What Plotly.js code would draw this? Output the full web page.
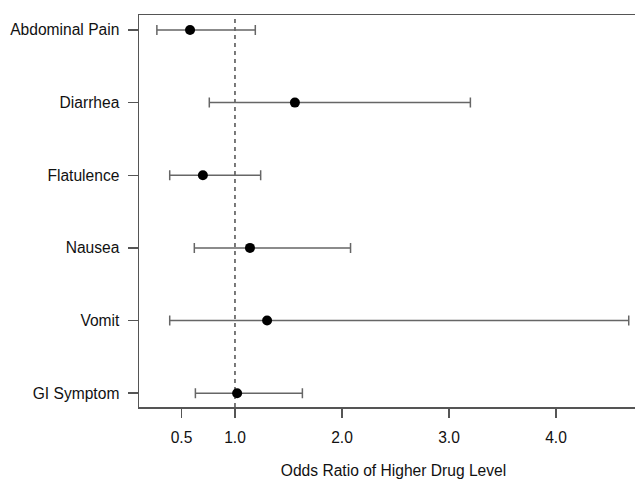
<!DOCTYPE html>
<html>
<head>
<meta charset="utf-8">
<script src="https://cdn.plot.ly/plotly-3.0.1.min.js"></script>
<style>
html,body{margin:0;padding:0;overflow:hidden;background:#fff;}
#chart{width:648px;height:479px;}
</style>
</head>
<body>
<div id="chart"></div>
<script>
const outcomes = ["Abdominal Pain", "Diarrhea", "Flatulence", "Nausea", "Vomit", "GI Symptom"];
const oddsRatio = [0.58, 1.56, 0.70, 1.14, 1.30, 1.02];
const ciLower   = [0.27, 0.76, 0.39, 0.62, 0.39, 0.63];
const ciUpper   = [1.19, 3.20, 1.24, 2.08, 4.68, 1.63];
const xTickVals = [0.5, 1.0, 2.0, 3.0, 4.0];
const xTickText = ["0.5", "1.0", "2.0", "3.0", "4.0"];
const refValue = 1.0;

const font = {family: "Liberation Sans, Arial, Helvetica, sans-serif", size: 15.6, color: "#111"};

const trace = {
  type: "scatter",
  mode: "markers",
  x: oddsRatio,
  y: outcomes,
  marker: {color: "#000", size: 10, symbol: "circle"},
  error_x: {
    type: "data",
    symmetric: false,
    array: oddsRatio.map((v, i) => ciUpper[i] - v),
    arrayminus: oddsRatio.map((v, i) => v - ciLower[i]),
    color: "#666",
    thickness: 1.5,
    width: 5
  },
  hoverinfo: "x+y",
  showlegend: false
};

const layout = {
  width: 648,
  height: 479,
  margin: {l: 139, r: 0, t: 15, b: 72},
  paper_bgcolor: "#fff",
  plot_bgcolor: "#fff",
  font: font,
  xaxis: {
    range: [0.103, 4.86],
    tickvals: xTickVals,
    ticktext: xTickText,
    ticks: "outside",
    ticklen: 9,
    tickwidth: 1.5,
    tickcolor: "#555",
    ticklabelstandoff: 7,
    showline: true,
    mirror: true,
    linecolor: "#555",
    linewidth: 1.5,
    showgrid: false,
    zeroline: false,
    tickfont: font,
    title: {text: "Odds Ratio of Higher Drug Level", font: font, standoff: 30},
    automargin: false
  },
  yaxis: {
    type: "category",
    categoryorder: "array",
    categoryarray: outcomes,
    range: [5.19, -0.206],
    ticks: "outside",
    ticklen: 10,
    tickwidth: 1.5,
    tickcolor: "#555",
    ticklabelstandoff: 5,
    showline: true,
    linecolor: "#555",
    linewidth: 1.5,
    showgrid: false,
    zeroline: false,
    tickfont: font,
    automargin: false
  },
  shapes: [{
    type: "line",
    xref: "x", yref: "paper",
    x0: refValue, x1: refValue, y0: 0, y1: 1,
    line: {color: "#222", width: 1.2, dash: "4px,4px"},
    layer: "below"
  }]
};

Plotly.newPlot("chart", [trace], layout, {displayModeBar: false, staticPlot: true});
</script>
</body>
</html>
